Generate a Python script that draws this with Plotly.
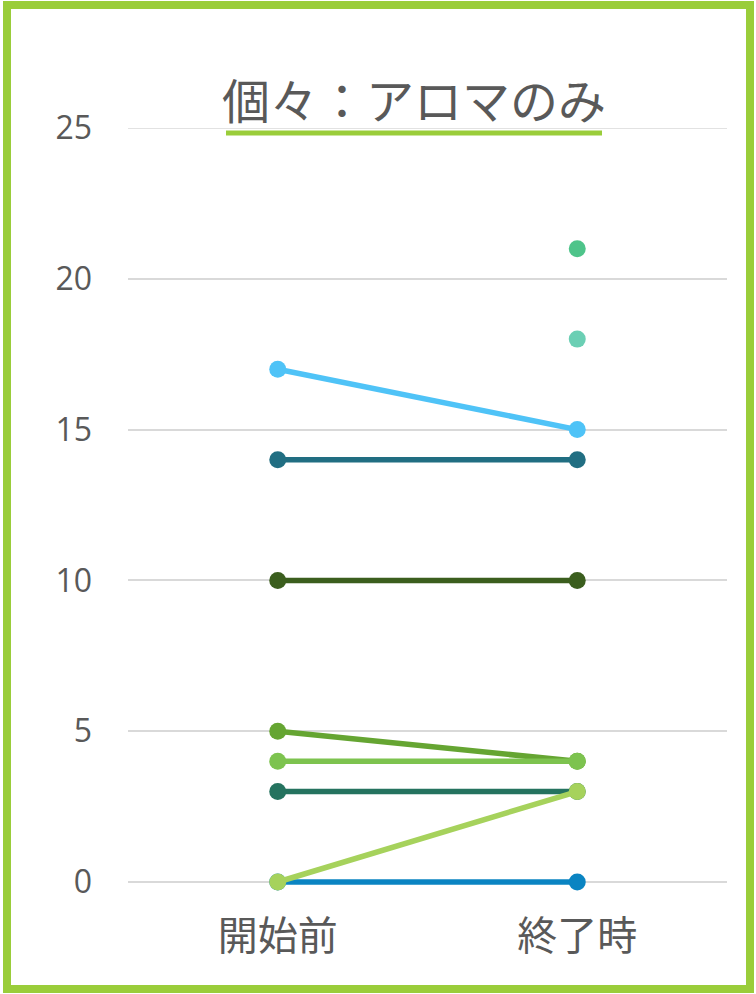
import plotly.graph_objects as go

W, H = 756, 994
categories = ["開始前", "終了時"]
series_names = ["A", "B", "C", "D", "E", "F", "G", "H", "I", "J"]
series_values = [
    [17, 15],
    [14, 14],
    [10, 10],
    [5, 4],
    [4, 4],
    [3, 3],
    [0, 3],
    [0, 0],
    [None, 21],
    [None, 18],
]
series_colors = [
    "#4FC3F7", "#216E82", "#3B5E1E", "#65A532", "#7DC34F",
    "#25735F", "#A6D25C", "#0A84C2", "#4EC48A", "#6BCFB4",
]
y_ticks = [0, 5, 10, 15, 20, 25]
title_text = "個々：アロマのみ"

ML, MR, MT, MB = 128, 29, 128, 100
PW, PH = W - ML - MR, H - MT - MB
Y0_PIX = 882  # pixel row of value 0
unit = (Y0_PIX - MT) / 25.0
y_lo = -(H - MB - Y0_PIX) / unit

def px(x):
    return (x - ML) / PW

def py(y):
    return (H - MB - y) / PH

fig = go.Figure()
order = [7, 0, 1, 2, 5, 3, 4, 6, 8, 9]
for i in order:
    fig.add_trace(go.Scatter(
        x=categories, y=series_values[i], name=series_names[i],
        mode="lines+markers",
        line=dict(color=series_colors[i], width=5.5),
        marker=dict(color=series_colors[i], size=17),
        showlegend=False, hoverinfo="skip",
    ))

font_fam = "Noto Sans CJK JP, Open Sans, sans-serif"
fig.update_layout(
    width=W, height=H,
    margin=dict(l=ML, r=MR, t=MT, b=MB),
    paper_bgcolor="white", plot_bgcolor="white",
    showlegend=False,
    xaxis=dict(
        type="category", range=[-0.5, 1.5], showgrid=False, zeroline=False,
        showline=False, ticks="", ticklabelstandoff=15,
        tickfont=dict(family=font_fam, size=40, color="#595959"),
    ),
    yaxis=dict(
        range=[y_lo, 25], tickvals=y_ticks, showgrid=True, gridcolor="#D9D9D9",
        gridwidth=1.5, zeroline=False, showline=False, ticks="",
        ticklabelstandoff=35,
        tickfont=dict(family="Open Sans, sans-serif", size=32, color="#595959"),
    ),
    font=dict(family=font_fam, color="#595959"),
)

fig.add_shape(type="line", xref="paper", yref="y", x0=0, x1=1,
              y0=y_ticks[-1], y1=y_ticks[-1],
              line=dict(color="#D9D9D9", width=1.5), layer="below")

fig.add_annotation(text=title_text, xref="paper", yref="paper",
                   x=px(414), y=py(98), xanchor="center", yanchor="middle",
                   showarrow=False,
                   font=dict(family=font_fam, size=48, color="#595959"))
fig.add_shape(type="line", xref="paper", yref="paper",
              x0=px(226), x1=px(602), y0=py(133), y1=py(133),
              line=dict(color="#9ACD3A", width=5))

fig.add_shape(type="rect", xref="paper", yref="paper",
              x0=px(7), x1=px(750), y0=py(5), y1=py(989),
              line=dict(color="#9ACD3A", width=8), fillcolor="rgba(0,0,0,0)")

fig.write_html("out.html", config={"displayModeBar": False},
               post_script="document.body.style.margin='0';document.body.style.padding='0';")
